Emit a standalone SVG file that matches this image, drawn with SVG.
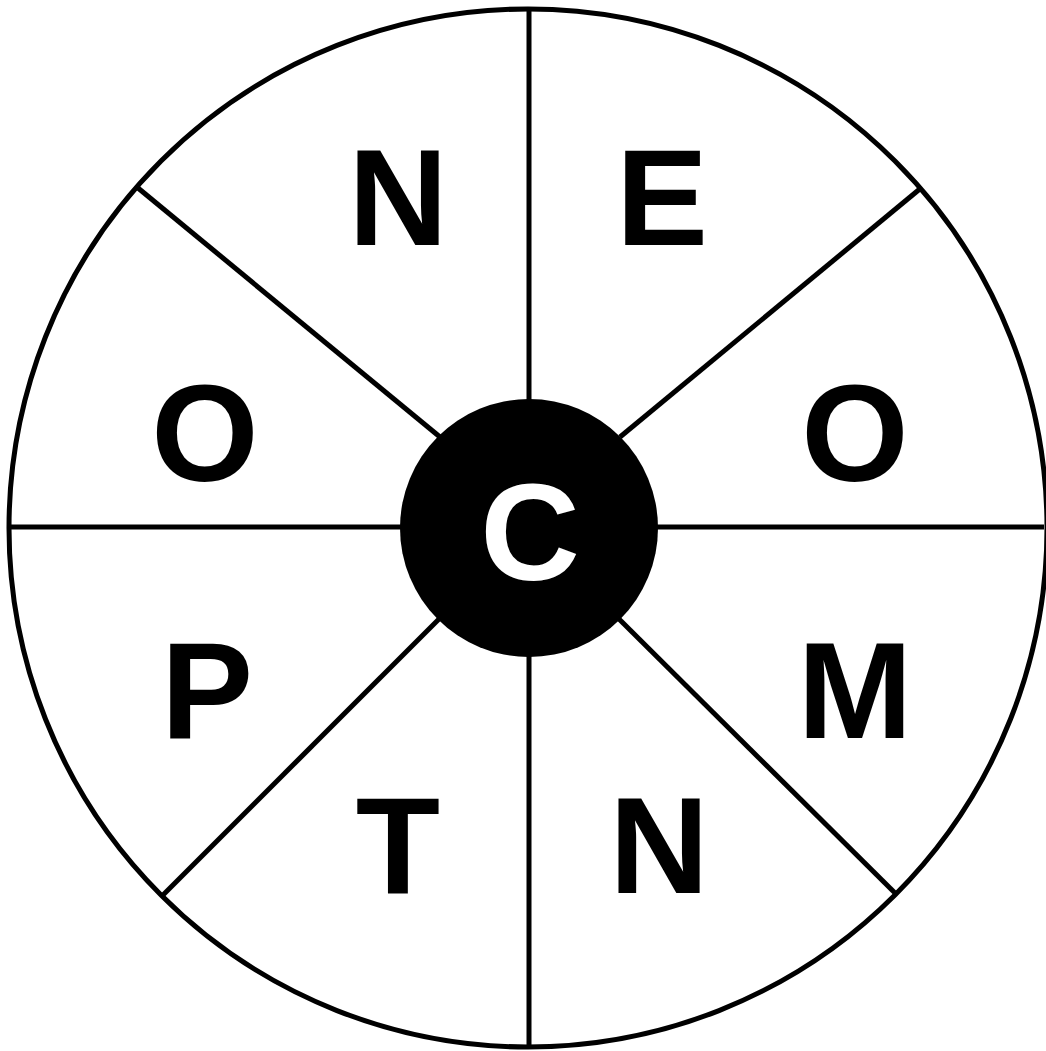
<svg xmlns="http://www.w3.org/2000/svg" width="1046" height="1051" viewBox="0 0 1046 1051">
<style>
.ln{stroke:#000;stroke-width:5;fill:none;stroke-linecap:butt}
.lt{font-family:"Liberation Sans",Arial,sans-serif;font-weight:bold;font-size:138px;text-anchor:middle;fill:#000}
</style>
<rect width="1046" height="1051" fill="#fff"/>
<g id="outer"><circle cx="528" cy="528" r="519" class="ln"/></g>
<g id="connectors">
<line class="ln" x1="529" y1="9" x2="529" y2="1048"/>
<line class="ln" x1="9" y1="527" x2="1044" y2="527"/>
<line class="ln" x1="138" y1="188" x2="440" y2="437"/>
<line class="ln" x1="921" y1="188" x2="620" y2="437"/>
<line class="ln" x1="163" y1="895" x2="440" y2="618"/>
<line class="ln" x1="895" y1="893" x2="618" y2="618"/>
</g>
<g id="center"><circle cx="529" cy="528" r="129" fill="#000"/><text class="lt" x="530" y="580" fill="#fff" style="fill:#fff">C</text></g>
<g id="seg-n1"><text class="lt" x="398" y="245">N</text></g>
<g id="seg-e"><text class="lt" x="662" y="245">E</text></g>
<g id="seg-o1"><text class="lt" x="205" y="481">O</text></g>
<g id="seg-o2"><text class="lt" x="855" y="481">O</text></g>
<g id="seg-p"><text class="lt" x="207" y="738">P</text></g>
<g id="seg-m"><text class="lt" x="855" y="738">M</text></g>
<g id="seg-t"><text class="lt" x="398" y="893">T</text></g>
<g id="seg-n2"><text class="lt" x="659" y="893">N</text></g>
</svg>
